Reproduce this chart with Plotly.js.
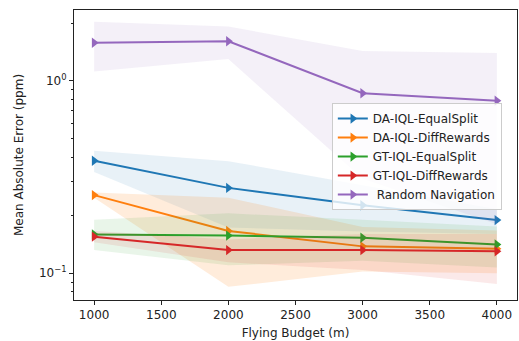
<!DOCTYPE html>
<html>
<head>
<meta charset="utf-8">
<script src="https://cdn.plot.ly/plotly-3.0.1.min.js"></script>
<style>html,body{margin:0;padding:0;background:#fff;}#chart{width:519px;height:341px;}</style>
</head>
<body>
<div id="chart"></div>
<script>
// Flying budget (m)
const budgets = [1000, 2000, 3000, 4000];

const seriesNames = ['DA-IQL-EqualSplit', 'DA-IQL-DiffRewards', 'GT-IQL-EqualSplit', 'GT-IQL-DiffRewards', '\u00a0Random Navigation'];
const seriesColors = ['#1f77b4', '#ff7f0e', '#2ca02c', '#d62728', '#9467bd'];
const bandColors = ['rgba(31,119,180,0.1)', 'rgba(255,127,14,0.15)', 'rgba(44,160,44,0.1)', 'rgba(214,39,40,0.1)', 'rgba(148,103,189,0.1)'];

// Mean absolute error (ppm)
const daEqualMean = [0.385, 0.278, 0.226, 0.189];
const daEqualUpper = [0.434, 0.383, 0.287, 0.215];
const daEqualLower = [0.336, 0.173, 0.165, 0.160];

const daDiffMean = [0.255, 0.166, 0.138, 0.134];
const daDiffUpper = [0.263, 0.247, 0.174, 0.167];
const daDiffLower = [0.247, 0.085, 0.102, 0.100];

const gtEqualMean = [0.159, 0.157, 0.153, 0.141];
const gtEqualUpper = [0.190, 0.205, 0.190, 0.175];
const gtEqualLower = [0.132, 0.110, 0.116, 0.107];

const gtDiffMean = [0.155, 0.132, 0.132, 0.130];
const gtDiffUpper = [0.166, 0.150, 0.160, 0.160];
const gtDiffLower = [0.145, 0.114, 0.104, 0.088];

const randomMean = [1.58, 1.61, 0.863, 0.79];
const randomUpper = [2.03, 1.92, 1.43, 1.40];
const randomLower = [1.12, 1.30, 0.31, 0.18];

const xTickVals = [1000, 1500, 2000, 2500, 3000, 3500, 4000];
const yTickVals = [0.1, 1];
const yTickText = ['10<sup>−1</sup>', '10<sup>0</sup>'];
const yMinorVals = [0.08, 0.09, 0.2, 0.3, 0.4, 0.5, 0.6, 0.7, 0.8, 0.9, 2];

const means = [daEqualMean, daDiffMean, gtEqualMean, gtDiffMean, randomMean];
const uppers = [daEqualUpper, daDiffUpper, gtEqualUpper, gtDiffUpper, randomUpper];
const lowers = [daEqualLower, daDiffLower, gtEqualLower, gtDiffLower, randomLower];

const traces = [];
for (let i = 0; i < seriesNames.length; i++) {
  traces.push({
    x: budgets.concat(budgets.slice().reverse()),
    y: uppers[i].concat(lowers[i].slice().reverse()),
    type: 'scatter', mode: 'lines', fill: 'toself',
    fillcolor: bandColors[i], line: {width: 0, color: 'rgba(0,0,0,0)'},
    hoverinfo: 'skip', showlegend: false
  });
  traces.push({
    x: budgets, y: means[i], name: seriesNames[i],
    type: 'scatter', mode: 'lines+markers',
    line: {color: seriesColors[i], width: 2},
    marker: {symbol: 'triangle-right', size: 9, color: seriesColors[i]}
  });
}

const font = {family: 'DejaVu Sans', size: 12, color: '#222'};
const layout = {
  width: 519, height: 341,
  margin: {l: 74, r: 2, t: 10, b: 41},
  paper_bgcolor: '#fff', plot_bgcolor: '#fff',
  font: font,
  showlegend: true,
  legend: {
    x: 0.582, y: 0.679, xanchor: 'left', yanchor: 'top',
    bgcolor: 'rgba(255,255,255,0.8)', bordercolor: '#ccc', borderwidth: 1,
    font: {family: 'DejaVu Sans', size: 12, color: '#222'},
    tracegroupgap: 0, itemwidth: 30
  },
  xaxis: {
    range: [850, 4150], tickvals: xTickVals, ticks: 'outside', ticklen: 4, tickcolor: '#222',
    showline: true, mirror: true, linecolor: '#222', linewidth: 1, showgrid: false, zeroline: false,
    title: {text: 'Flying Budget (m)', font: font, standoff: 7}
  },
  yaxis: {
    type: 'log', range: [Math.log10(0.0726), Math.log10(2.34)],
    tickvals: yTickVals, ticktext: yTickText, ticks: 'outside', ticklen: 4, tickcolor: '#222',
    minor: {tickvals: yMinorVals, ticks: 'outside', ticklen: 2, tickcolor: '#222', showgrid: false},
    showline: true, mirror: true, linecolor: '#222', linewidth: 1, showgrid: false, zeroline: false,
    title: {text: 'Mean Absolute Error (ppm)', font: font, standoff: 12}
  }
};

Plotly.newPlot('chart', traces, layout, {displayModeBar: false, staticPlot: true});
</script>
</body>
</html>
